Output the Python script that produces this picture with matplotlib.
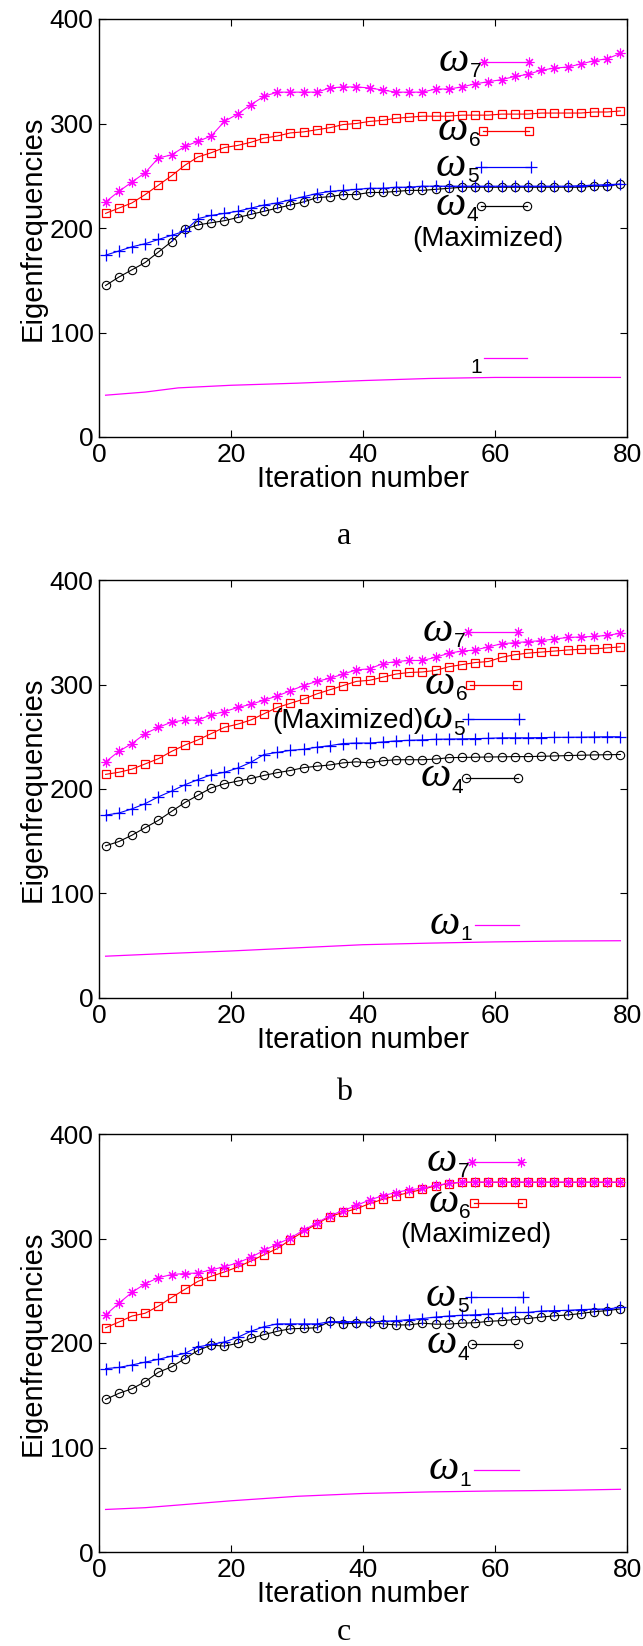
import matplotlib
matplotlib.use('Agg')
import matplotlib.pyplot as plt

plt.rcParams['font.family'] = ['Liberation Sans', 'DejaVu Sans']

# iterations where the markers sit
it = list(range(1, 80, 2))

# ---- run a : omega_4 maximized
a_w7 = [225, 235, 244, 253, 267, 270, 278, 283, 288, 302,
        309, 318, 326, 330, 330, 330, 330, 334, 335, 335,
        334, 332, 330, 330, 330, 333, 333, 335, 338, 340,
        342, 345, 347, 351, 353, 354, 357, 360, 362, 367]
a_w6 = [214, 219, 224, 232, 241, 250, 260, 268, 272, 277,
        279, 282, 286, 288, 291, 292, 294, 296, 299, 300,
        302, 303, 305, 306, 307, 307, 307, 308, 308, 308,
        309, 309, 309, 310, 310, 310, 310, 311, 311, 312]
a_w5 = [174, 178, 182, 185, 189, 193, 197, 209, 212, 214,
        216, 219, 222, 224, 227, 230, 233, 235, 236, 237,
        238, 238, 239, 239, 240, 240, 240, 240, 240, 240,
        240, 240, 240, 240, 240, 240, 240.5, 241, 241.5, 242]
a_w4 = [145, 153, 160, 167, 177, 187, 199, 203, 205, 207,
        210, 213, 216, 219, 222, 225, 229, 230, 232, 232,
        234, 234, 235, 236, 236, 237, 238, 239, 239, 239,
        239, 239, 239, 239, 239, 239, 239, 240, 240, 242]
a_w1_x = [1, 7, 12, 20, 30, 40, 50, 60, 70, 79]
a_w1 = [40, 43, 47, 49.5, 51.5, 54, 56, 57, 57, 57]

# ---- run b : omega_5 maximized
b_w7 = [226, 236, 243.5, 253, 259, 264, 266, 266, 271, 274,
        278, 281, 285, 289, 294, 299, 303, 306, 310, 314,
        315, 320, 322, 323, 323, 326, 330, 332, 333, 336,
        339, 340, 341, 342, 343.5, 345, 345.5, 346, 347, 349]
b_w6 = [214, 216, 219, 224, 229, 236, 242, 247, 253, 259,
        262, 266, 272, 278, 282, 286, 291, 295, 299, 303,
        304, 307, 310, 311.5, 312, 313.5, 317, 319, 321, 322,
        326, 328.5, 330, 331, 332, 333, 333.7, 334, 335, 336]
b_w5 = [175, 177, 181, 186, 192.5, 198, 204, 209, 213.6, 216,
        220, 225.5, 233, 235, 237, 238, 240, 241.5, 243.5, 244,
        244, 245, 246, 246.6, 247, 247.6, 247.8, 248, 248.2, 248.5,
        249, 249, 249, 249.2, 249.4, 249.5, 249.6, 249.8, 250, 250]
b_w4 = [145.6, 149.7, 155.8, 163, 170, 178.6, 187, 194, 201, 205,
        207.5, 210, 213, 215.6, 217.7, 220.4, 221.8, 223, 225, 226,
        225, 227, 228, 228, 228, 228.6, 230, 230.2, 230.4, 230.6,
        230.8, 231, 231, 231.3, 231.6, 232, 232.3, 232.6, 232.8, 233]
b_w1_x = [1, 10, 20, 30, 40, 50, 60, 70, 79]
b_w1 = [40, 42.5, 45, 48, 51, 52.5, 53.7, 54.5, 54.8]

# ---- run c : omega_6 maximized
c_w7 = [226.8, 238, 248.5, 256.7, 262.5, 265.5, 266.5, 267, 270, 273,
        276.7, 282, 288.6, 294.7, 300.5, 308, 314.8, 322, 326.7, 331.7,
        336.8, 341, 344, 346.7, 348, 350.8, 352.8, 354, 354, 354,
        354, 354, 354, 354, 354, 354, 354, 354, 354, 354]
c_w6 = [214.6, 220, 225.8, 228.5, 235.3, 243.5, 251.3, 259, 263.8, 268,
        272.7, 278.4, 284.5, 290.3, 298.8, 306.6, 314, 321, 325, 328.4,
        333.4, 337.5, 341, 344, 347, 350.4, 352.5, 353.8, 353.8, 353.8,
        353.8, 353.8, 353.8, 353.8, 353.8, 353.8, 353.8, 353.8, 353.8, 353.8]
c_w5 = [175.5, 176.6, 179, 181.7, 184.4, 187.4, 190, 196.3, 198.6, 201,
        205.4, 211.2, 215.6, 218.3, 218.3, 218.3, 218.3, 220.4, 220.4, 220.4,
        220, 220.7, 221.4, 222.4, 223.4, 224.8, 225.8, 226.5, 227, 227.8,
        228.5, 229.2, 229.2, 230.6, 231, 231.2, 232, 232.3, 232.6, 234]
c_w4 = [146, 151.8, 156.2, 163, 172, 177.2, 185, 192.9, 198, 197,
        199.7, 204.4, 208, 211.2, 213.6, 214, 214.6, 220.7, 218.3, 219,
        219.7, 218.3, 217.3, 217.3, 219, 218, 218, 219, 219.4, 220.7,
        221.4, 222.4, 223.4, 224.8, 226, 226.8, 228.2, 229.9, 231, 232.6]
c_w1_x = [1, 7, 20, 30, 40, 50, 60, 70, 79]
c_w1 = [40.7, 42.4, 49, 53.3, 56, 57.5, 58.4, 59, 60]

xticks = [0, 20, 40, 60, 80]
yticks = [0, 100, 200, 300, 400]

star = (8, 2, 0)
styles = {
    '7': dict(color='#ff00ff', marker=star, ms=7, mfc='none', mew=0.8),
    '6': dict(color='#ff0000', marker='s', ms=6, mfc='none', mew=0.9),
    '5': dict(color='#0000ff', marker='+', ms=8, mfc='none', mew=0.9),
    '4': dict(color='#000000', marker='o', ms=6, mfc='none', mew=0.8),
    '1': dict(color='#ff00ff', marker='None'),
}

# labelled key segments: mode, y, x start, x end
a_keys = [('7', 359, 58.4, 65.2), ('6', 292.6, 58.2, 65.1), ('5', 258.5, 57.9, 65.5),
          ('4', 221, 57.9, 64.9), ('1', 75.4, 58.4, 64.9)]
b_keys = [('7', 350.3, 55.9, 63.5), ('6', 299.3, 56.2, 63.3), ('5', 266.7, 55.9, 63.7),
          ('4', 211, 55.6, 63.5), ('1', 70, 57, 63.7)]
c_keys = [('7', 373.4, 56.5, 64.0), ('6', 334, 56.8, 64.1), ('5', 243.8, 56.4, 64.3),
          ('4', 198.6, 56.5, 63.5), ('1', 78, 56.8, 63.6)]

# where "(Maximized)" goes: x, y, alignment
a_max = (58.9, 189.3, 'center')
b_max = (49.2, 264.6, 'right')
c_max = (57.1, 303, 'center')

fig = plt.figure(figsize=(6.43, 16.46), dpi=100)
left, width, height = 99 / 643, 528 / 643, 418 / 1646
bottoms = [1 - 437 / 1646, 1 - 998 / 1646, 1 - 1552 / 1646]
letter_y = [1 - 537 / 1646, 1 - 1093 / 1646, 1 - 1632 / 1646]

panels = [
    ('a', a_w7, a_w6, a_w5, a_w4, a_w1_x, a_w1, a_keys, a_max, False),
    ('b', b_w7, b_w6, b_w5, b_w4, b_w1_x, b_w1, b_keys, b_max, True),
    ('c', c_w7, c_w6, c_w5, c_w4, c_w1_x, c_w1, c_keys, c_max, True),
]

for k, (letter, w7, w6, w5, w4, w1x, w1, keys, mx, omega1) in enumerate(panels):
    ax = fig.add_axes([left, bottoms[k], width, height])
    ax.plot(w1x, w1, color='#ff00ff', lw=0.9)
    ax.plot(it, w4, lw=0.8, **styles['4'])
    ax.plot(it, w5, lw=0.8, **styles['5'])
    ax.plot(it, w6, lw=0.8, **styles['6'])
    ax.plot(it, w7, lw=0.8, **styles['7'])

    for mode, y, x0, x1 in keys:
        ax.plot([x0, x1], [y, y], lw=0.9, **styles[mode])
        if mode != '1' or omega1:
            ax.annotate('ω', xy=(x0, y), xytext=(-11, 1), textcoords='offset points',
                        ha='right', va='center', fontsize=31, style='italic',
                        family='Liberation Serif')
        ax.annotate(mode, xy=(x0, y), xytext=(-2, -7), textcoords='offset points',
                    ha='right', va='center', fontsize=15)

    ax.text(mx[0], mx[1], '(Maximized)', ha=mx[2], va='center', fontsize=20)

    ax.set_xlim(0, 80)
    ax.set_ylim(0, 400)
    ax.set_xticks(xticks)
    ax.set_yticks(yticks)
    ax.tick_params(direction='in', top=True, right=True, labelsize=19, length=5, pad=4)
    for s in ax.spines.values():
        s.set_linewidth(1.0)
    ax.set_xlabel('Iteration number', fontsize=21, labelpad=-1)
    ax.set_ylabel('Eigenfrequencies', fontsize=21, labelpad=2)
    fig.text(0.535, letter_y[k], letter, ha='center', va='center', fontsize=23,
             family='Liberation Serif')

fig.savefig('out.png', dpi=100)
